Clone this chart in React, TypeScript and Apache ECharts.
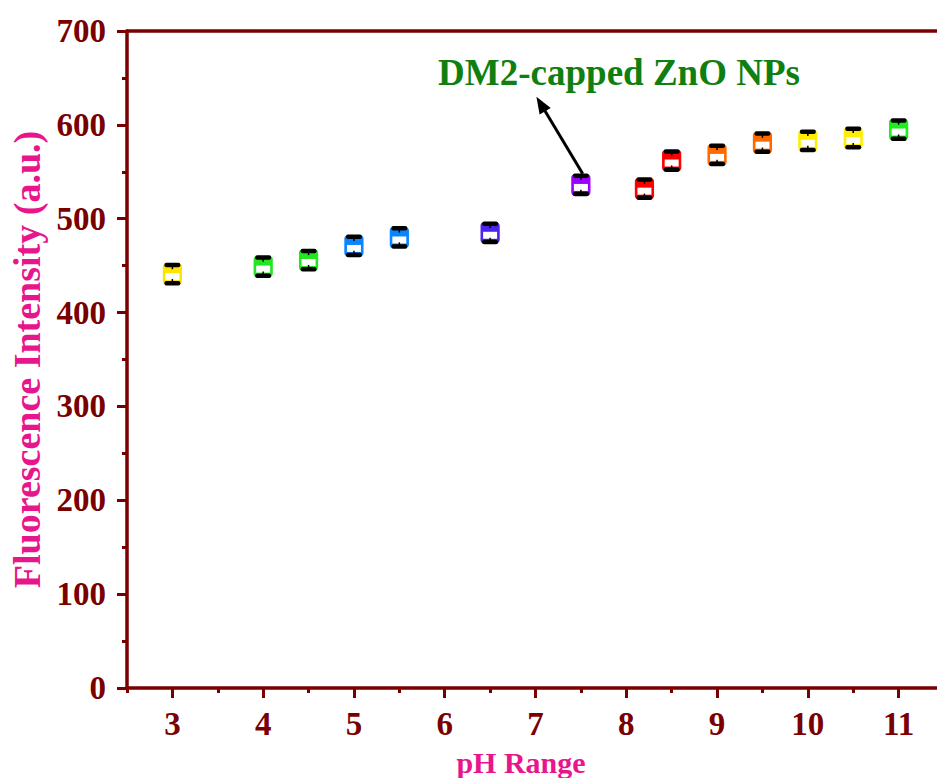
import React, { useEffect, useRef } from "react";
import * as echarts from "echarts";

const phValues = [3, 4, 4.5, 5, 5.5, 6.5, 7.5, 8.2, 8.5, 9, 9.5, 10, 10.5, 11];
const intensity = [441, 449, 456, 471, 480, 485, 536, 532, 562, 568, 581, 583, 586, 595];
const errors = [10, 10, 10, 10, 10, 10, 10, 10, 10, 10, 10, 10, 10, 10];
const markerColors = [
  "#FFE400", "#22E61E", "#22E61E", "#0A84FF", "#0A84FF", "#4E22EE", "#9A00FF",
  "#FF0000", "#FF0000", "#FF6A00", "#FF6A00", "#FFEE00", "#FFEE00", "#1EEE1E",
];
const xTickLabels = [3, 4, 5, 6, 7, 8, 9, 10, 11];
const yTickLabels = [0, 100, 200, 300, 400, 500, 600, 700];
const annotationText = "DM2-capped ZnO NPs";
const annotationPos = [7.92, 656];
const arrowFrom = [7.52, 548];
const arrowTo = [7.01, 630];

const AXIS_COLOR = "#7A0000";
const TITLE_COLOR = "#E8168C";
const FONT = "'Liberation Serif', 'Times New Roman', serif";

export default function App() {
  const ref = useRef<HTMLDivElement>(null);
  useEffect(() => {
    if (!ref.current) return;
    const chart = echarts.init(ref.current, null, { renderer: "svg" });
    const data = phValues.map((x, i) => [x, intensity[i], errors[i], i]);
    const option: any = {
      animation: false,
      backgroundColor: "#fff",
      grid: {
        left: 127,
        top: 31,
        width: 817,
        height: 657,
        containLabel: false,
        outerBoundsMode: "none",
      },
      xAxis: [
        {
          type: "value",
          min: 2.5,
          max: 11.5,
          interval: 1,
          position: "bottom",
          name: "pH Range",
          nameLocation: "middle",
          nameGap: 59,
          nameTextStyle: {
            color: TITLE_COLOR,
            fontFamily: FONT,
            fontWeight: "bold",
            fontSize: 30,
            padding: [0, 29, 0, 0],
          },
          axisLine: { show: true, lineStyle: { color: AXIS_COLOR, width: 3.5 } },
          axisTick: { show: true, length: 5, lineStyle: { color: AXIS_COLOR, width: 3 } },
          minorTick: { show: true, splitNumber: 2, length: 10, lineStyle: { color: AXIS_COLOR, width: 3 } },
          axisLabel: {
            customValues: xTickLabels,
            color: AXIS_COLOR,
            fontFamily: FONT,
            fontWeight: "bold",
            fontSize: 33,
            margin: 19,
          },
          splitLine: { show: false },
          minorSplitLine: { show: false },
        },
        {
          type: "value",
          min: 2.5,
          max: 11.5,
          position: "top",
          axisLine: { show: true, lineStyle: { color: AXIS_COLOR, width: 3.5 } },
          axisTick: { show: false },
          axisLabel: { show: false },
          splitLine: { show: false },
        },
      ],
      yAxis: {
        type: "value",
        min: 0,
        max: 700,
        interval: 100,
        name: "Fluorescence Intensity (a.u.)",
        nameLocation: "middle",
        nameGap: 80,
        nameTextStyle: { color: TITLE_COLOR, fontFamily: FONT, fontWeight: "bold", fontSize: 38 },
        axisLine: { show: true, lineStyle: { color: AXIS_COLOR, width: 3.5 } },
        axisTick: { show: true, length: 10, lineStyle: { color: AXIS_COLOR, width: 3 } },
        minorTick: { show: true, splitNumber: 2, length: 5, lineStyle: { color: AXIS_COLOR, width: 3 } },
        axisLabel: {
          customValues: yTickLabels,
          color: AXIS_COLOR,
          fontFamily: FONT,
          fontWeight: "bold",
          fontSize: 33,
          margin: 21,
        },
        splitLine: { show: false },
        minorSplitLine: { show: false },
      },
      series: [
        {
          type: "custom",
          data,
          renderItem: (params: any, api: any) => {
            const x = api.value(0);
            const y = api.value(1);
            const e = api.value(2);
            const idx = api.value(3);
            const color = markerColors[idx];
            const c = api.coord([x, y]);
            const top = api.coord([x, y + e]);
            const bot = api.coord([x, y - e]);
            const cx = c[0];
            const cy = c[1];
            return {
              type: "group",
              children: [
                {
                  type: "rect",
                  shape: { x: cx - 9, y: cy - 10, width: 18, height: 20, r: 3 },
                  style: { fill: color, stroke: color, lineWidth: 1.2 },
                },
                {
                  type: "rect",
                  shape: { x: cx - 7, y: cy - 1, width: 14, height: 7 },
                  style: { fill: "#ffffff" },
                },
                {
                  type: "rect",
                  shape: { x: cx - 8, y: top[1] - 2, width: 16, height: 4.5, r: 2 },
                  style: { fill: "#000" },
                },
                {
                  type: "rect",
                  shape: { x: cx - 8, y: bot[1] - 2.5, width: 16, height: 4.5, r: 2 },
                  style: { fill: "#000" },
                },
                {
                  type: "line",
                  shape: { x1: cx, y1: top[1], x2: cx, y2: top[1] + 4.5 },
                  style: { stroke: "#000", lineWidth: 1.5 },
                },
                {
                  type: "line",
                  shape: { x1: cx, y1: bot[1] - 4.5, x2: cx, y2: bot[1] },
                  style: { stroke: "#000", lineWidth: 1.5 },
                },
              ],
            };
          },
        },
      ],
    };
    chart.setOption(option);

    const tp = chart.convertToPixel({ gridIndex: 0 }, annotationPos);
    const a0 = chart.convertToPixel({ gridIndex: 0 }, arrowFrom);
    const a1 = chart.convertToPixel({ gridIndex: 0 }, arrowTo);
    const dx = a1[0] - a0[0];
    const dy = a1[1] - a0[1];
    const len = Math.sqrt(dx * dx + dy * dy);
    const ux = dx / len;
    const uy = dy / len;
    const headLen = 17;
    const headW = 6.5;
    const bx = a1[0] - ux * headLen;
    const by = a1[1] - uy * headLen;
    chart.setOption({
      graphic: [
        {
          type: "text",
          x: tp[0],
          y: tp[1],
          style: {
            text: annotationText,
            fill: "#0F7F0F",
            font: `bold 37px ${FONT}`,
            align: "center",
            verticalAlign: "middle",
          },
        },
        {
          type: "line",
          shape: { x1: a0[0], y1: a0[1], x2: bx + ux * 2, y2: by + uy * 2 },
          style: { stroke: "#000", lineWidth: 3 },
        },
        {
          type: "polygon",
          shape: {
            points: [
              [a1[0], a1[1]],
              [bx - uy * headW, by + ux * headW],
              [bx + uy * headW, by - ux * headW],
            ],
          },
          style: { fill: "#000" },
        },
      ],
    });
    return () => chart.dispose();
  }, []);
  return (
    <div
      style={{
        position: "fixed",
        left: 0,
        top: 0,
        width: 937,
        height: 778,
        overflow: "hidden",
        background: "#fff",
      }}
    >
      <div ref={ref} style={{ width: 960, height: 778 }} />
    </div>
  );
}
